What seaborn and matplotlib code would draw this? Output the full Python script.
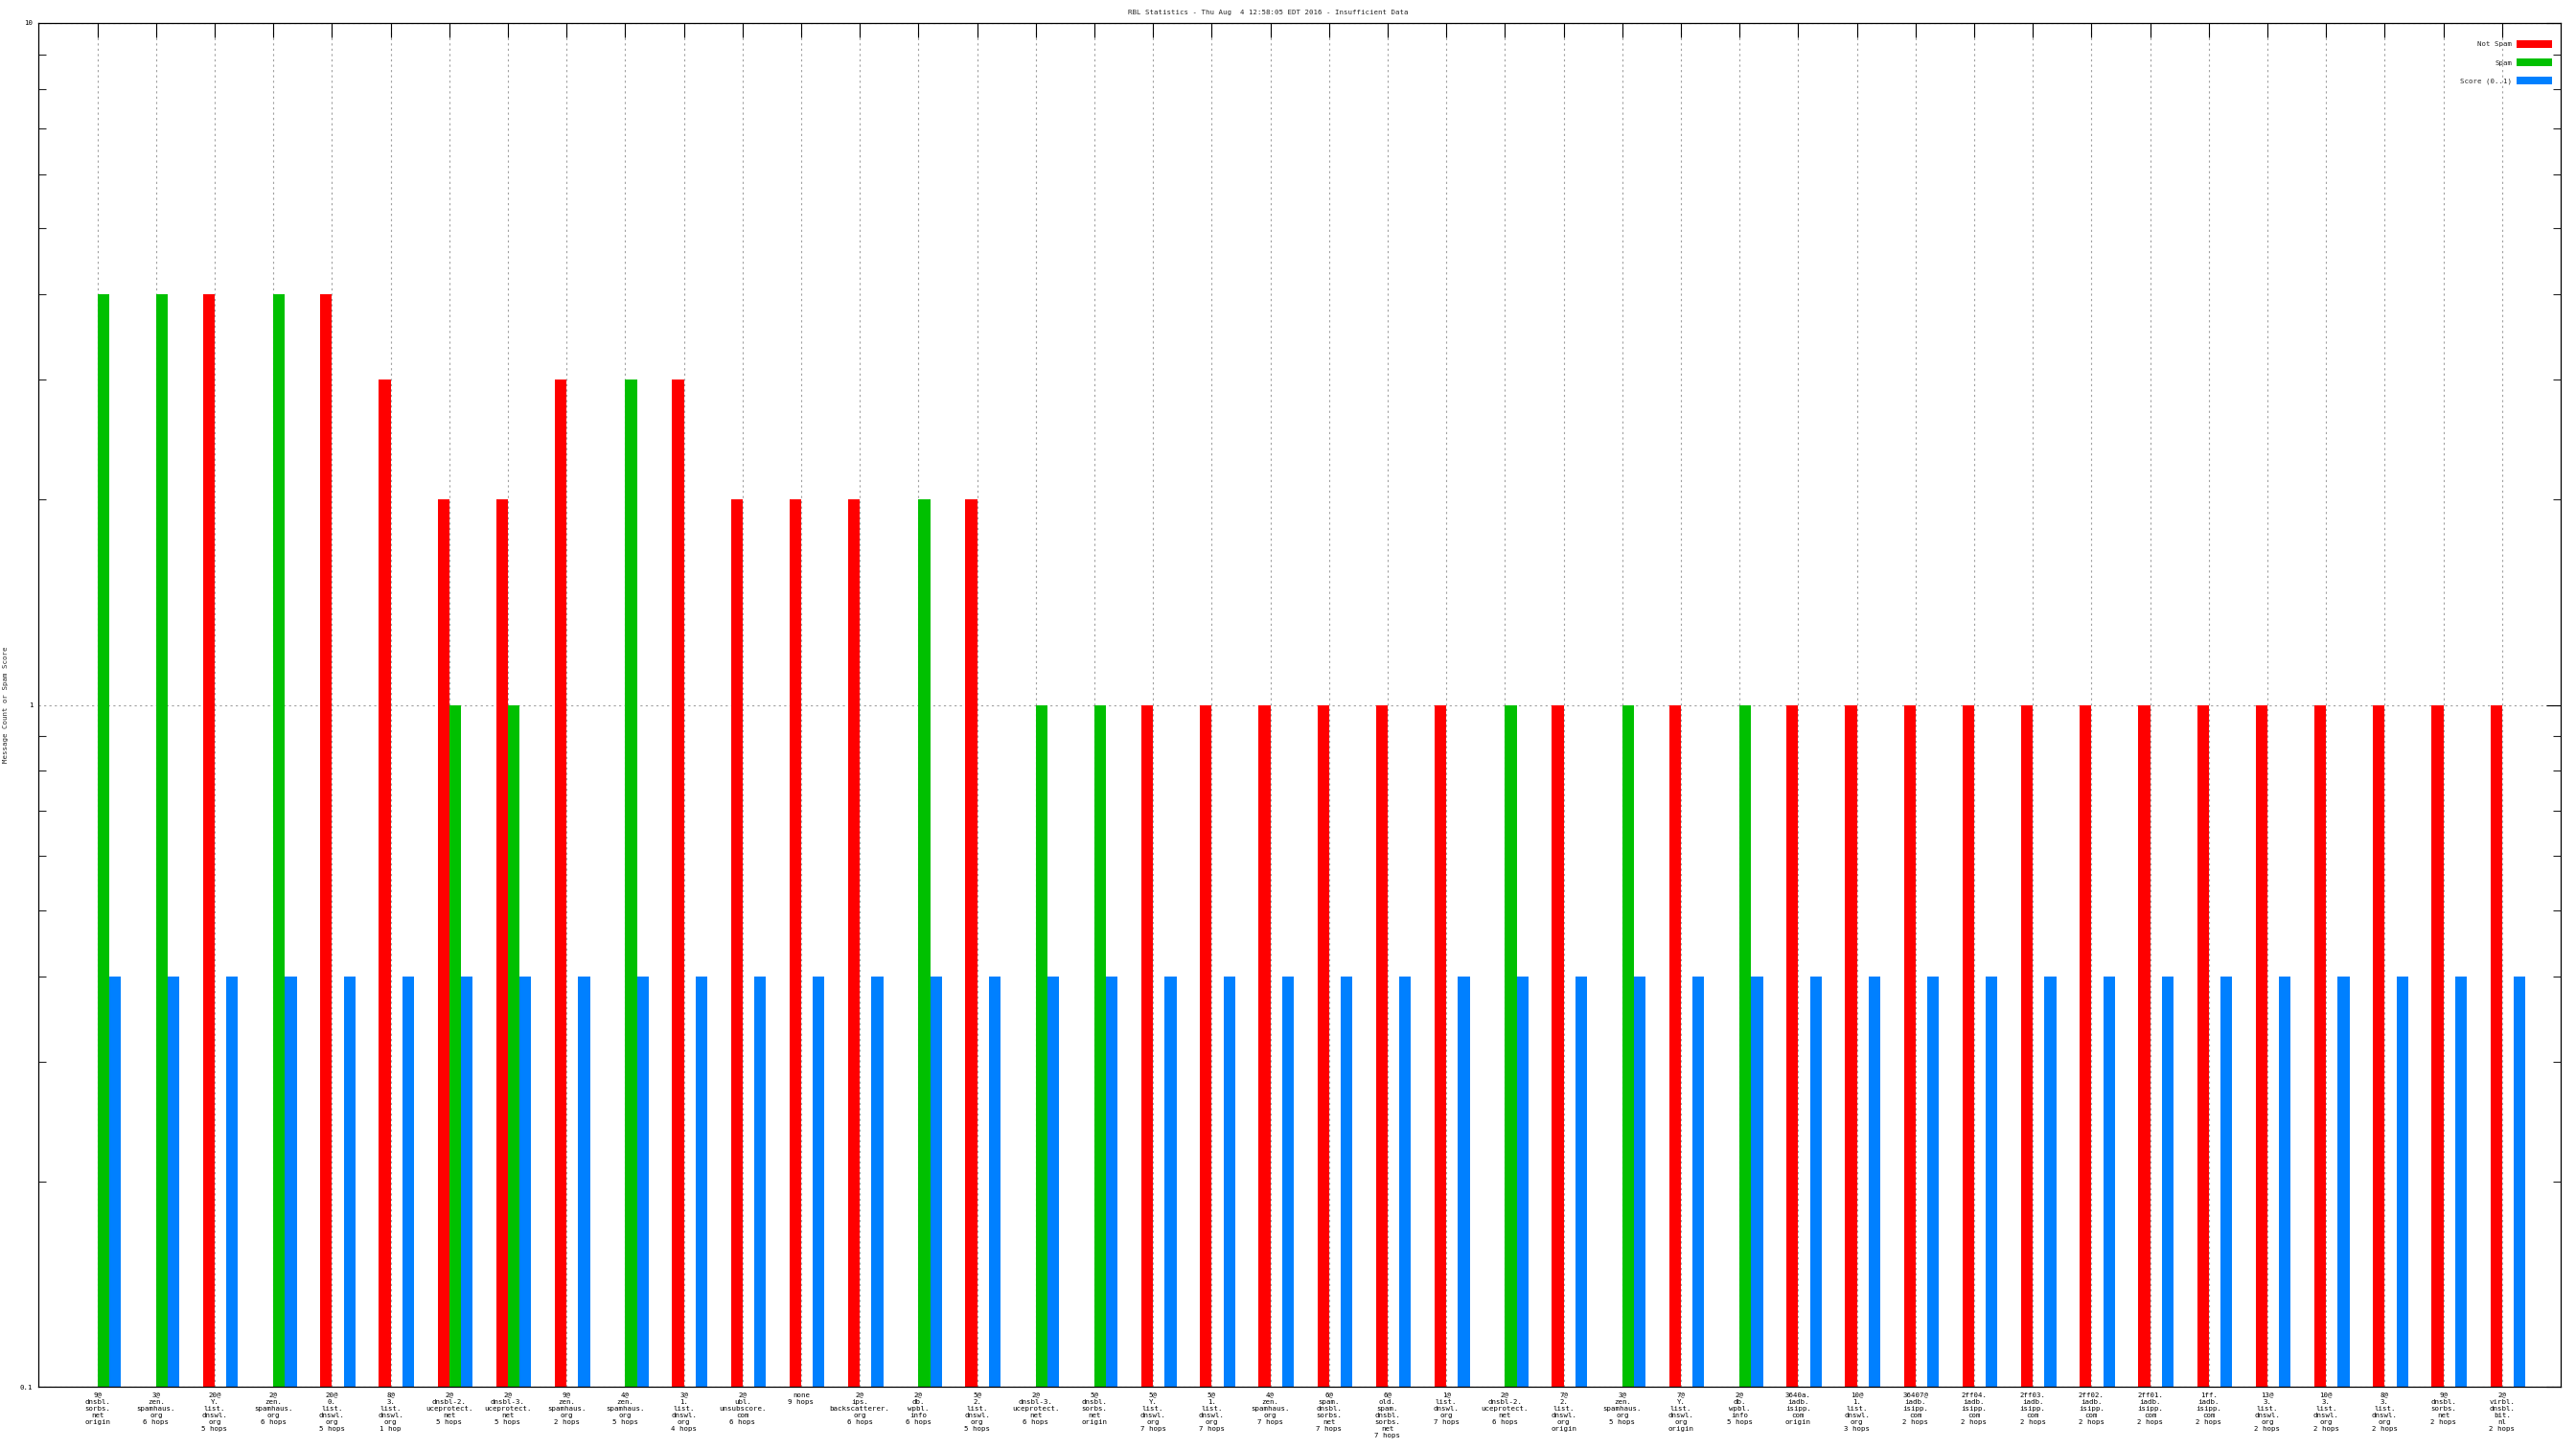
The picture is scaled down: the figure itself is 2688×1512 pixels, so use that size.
import matplotlib
matplotlib.use("Agg")
from matplotlib import pyplot as plt
from matplotlib.ticker import LogLocator, NullFormatter, FixedLocator
import seaborn as sns
import pandas as pd
import numpy as np

# RBL hits per lookup zone, 42 columns
categories = [
    "9@\ndnsbl.\nsorbs.\nnet\norigin",
    "3@\nzen.\nspamhaus.\norg\n6 hops",
    "20@\nY.\nlist.\ndnswl.\norg\n5 hops",
    "2@\nzen.\nspamhaus.\norg\n6 hops",
    "20@\n0.\nlist.\ndnswl.\norg\n5 hops",
    "8@\n3.\nlist.\ndnswl.\norg\n1 hop",
    "2@\ndnsbl-2.\nuceprotect.\nnet\n5 hops",
    "2@\ndnsbl-3.\nuceprotect.\nnet\n5 hops",
    "9@\nzen.\nspamhaus.\norg\n2 hops",
    "4@\nzen.\nspamhaus.\norg\n5 hops",
    "3@\n1.\nlist.\ndnswl.\norg\n4 hops",
    "2@\nubl.\nunsubscore.\ncom\n6 hops",
    "none\n9 hops",
    "2@\nips.\nbackscatterer.\norg\n6 hops",
    "2@\ndb.\nwpbl.\ninfo\n6 hops",
    "5@\n2.\nlist.\ndnswl.\norg\n5 hops",
    "2@\ndnsbl-3.\nuceprotect.\nnet\n6 hops",
    "5@\ndnsbl.\nsorbs.\nnet\norigin",
    "5@\nY.\nlist.\ndnswl.\norg\n7 hops",
    "5@\n1.\nlist.\ndnswl.\norg\n7 hops",
    "4@\nzen.\nspamhaus.\norg\n7 hops",
    "6@\nspam.\ndnsbl.\nsorbs.\nnet\n7 hops",
    "6@\nold.\nspam.\ndnsbl.\nsorbs.\nnet\n7 hops",
    "1@\nlist.\ndnswl.\norg\n7 hops",
    "2@\ndnsbl-2.\nuceprotect.\nnet\n6 hops",
    "7@\n2.\nlist.\ndnswl.\norg\norigin",
    "3@\nzen.\nspamhaus.\norg\n5 hops",
    "7@\nY.\nlist.\ndnswl.\norg\norigin",
    "2@\ndb.\nwpbl.\ninfo\n5 hops",
    "3640a.\niadb.\nisipp.\ncom\norigin",
    "10@\n1.\nlist.\ndnswl.\norg\n3 hops",
    "36407@\niadb.\nisipp.\ncom\n2 hops",
    "2ff04.\niadb.\nisipp.\ncom\n2 hops",
    "2ff03.\niadb.\nisipp.\ncom\n2 hops",
    "2ff02.\niadb.\nisipp.\ncom\n2 hops",
    "2ff01.\niadb.\nisipp.\ncom\n2 hops",
    "1ff.\niadb.\nisipp.\ncom\n2 hops",
    "13@\n3.\nlist.\ndnswl.\norg\n2 hops",
    "10@\n3.\nlist.\ndnswl.\norg\n2 hops",
    "8@\n3.\nlist.\ndnswl.\norg\n2 hops",
    "9@\ndnsbl.\nsorbs.\nnet\n2 hops",
    "2@\nvirbl.\ndnsbl.\nbit.\nnl\n2 hops",
]

not_spam = [None, None, 4, None, 4, 3, 2, 2, 3, None,
            3, 2, 2, 2, None, 2, None, None, 1, 1,
            1, 1, 1, 1, None, 1, None, 1, None, 1,
            1, 1, 1, 1, 1, 1, 1, 1, 1, 1,
            1, 1]
spam = [4, 4, None, 4, None, None, 1, 1, None, 3,
        None, None, None, None, 2, None, 1, 1, None, None,
        None, None, None, None, 1, None, 1, None, 1, None,
        None, None, None, None, None, None, None, None, None, None,
        None, None]
score = [0.4, 0.4, 0.4, 0.4, 0.4, 0.4, 0.4, 0.4, 0.4, 0.4,
         0.4, 0.4, 0.4, 0.4, 0.4, 0.4, 0.4, 0.4, 0.4, 0.4,
         0.4, 0.4, 0.4, 0.4, 0.4, 0.4, 0.4, 0.4, 0.4, 0.4,
         0.4, 0.4, 0.4, 0.4, 0.4, 0.4, 0.4, 0.4, 0.4, 0.4,
         0.4, 0.4]

series_names = ["Not Spam", "Spam", "Score (0..1)"]
series_colors = ["#ff0000", "#00c000", "#0080ff"]

frames = []
for name, vals in zip(series_names, [not_spam, spam, score]):
    frames.append(pd.DataFrame({"idx": range(len(categories)), "kind": name,
                                "value": pd.to_numeric(pd.Series(vals), errors="coerce")}))
df = pd.concat(frames).dropna()

sns.set_style("white")
font = "DejaVu Sans Mono"
plt.rcParams["font.family"] = [font, "DejaVu Sans"]
fs = 5.3

fig = plt.figure(figsize=(26.88, 15.12), dpi=100)
ax = fig.add_axes([40 / 2688, 1 - 1447 / 1512, 2632 / 2688, 1423 / 1512])

sns.barplot(data=df, x="idx", y="value", hue="kind", hue_order=series_names,
            order=list(range(len(categories))), palette=series_colors,
            width=0.6, dodge=True, errorbar=None, saturation=1, ax=ax)
for p in ax.patches:
    p.set_linewidth(0)
    p.set_antialiased(False)

ax.set_yscale("log")
ax.set_ylim(0.1, 10)
n = len(categories)
# tick sits on the edge between the red and green bar, like gnuplot
ticks = np.arange(n) - 0.1
ax.set_xlim(-1.106, 41.9)
ax.set_xticks(ticks)
ax.set_xticklabels(categories, fontsize=fs, linespacing=1.2, multialignment="center")
ax.yaxis.set_major_locator(FixedLocator([0.1, 1, 10]))
ax.set_yticklabels(["0.1", "1", "10"], fontsize=fs)
ax.yaxis.set_minor_locator(LogLocator(base=10, subs=np.arange(2, 10)))
ax.yaxis.set_minor_formatter(NullFormatter())

ax.set_axisbelow(True)
ax.grid(True, axis="both", which="major", color="#a0a0a0", linestyle=(0, (2, 3)), linewidth=0.8)
ax.tick_params(axis="both", which="major", direction="in", length=11, width=0.8,
               top=True, right=True, colors="black", pad=4)
ax.tick_params(axis="y", which="minor", direction="in", length=5.5, width=0.8, right=True, left=True)
for s in ax.spines.values():
    s.set_visible(True)
    s.set_color("black")
    s.set_linewidth(0.9)

ax.set_xlabel("")
ax.set_ylabel("Message Count or Spam Score", fontsize=fs)
ax.yaxis.set_label_coords(-31 / 2632, 0.5)

handles, labels = ax.get_legend_handles_labels()
ax.legend(handles, labels, loc="upper right", bbox_to_anchor=(1 - 9 / 2632, 1 - 18 / 1423),
          frameon=False, markerfirst=False, fontsize=fs, handlelength=5, handleheight=1.25,
          handletextpad=0.7, labelspacing=1.55, borderpad=0, borderaxespad=0)

fig.text(1323 / 2688, 1 - 13 / 1512,
         "RBL Statistics - Thu Aug  4 12:58:05 EDT 2016 - Insufficient Data",
         ha="center", va="center", fontsize=fs)

fig.savefig("out.png", dpi=100, facecolor="white")
